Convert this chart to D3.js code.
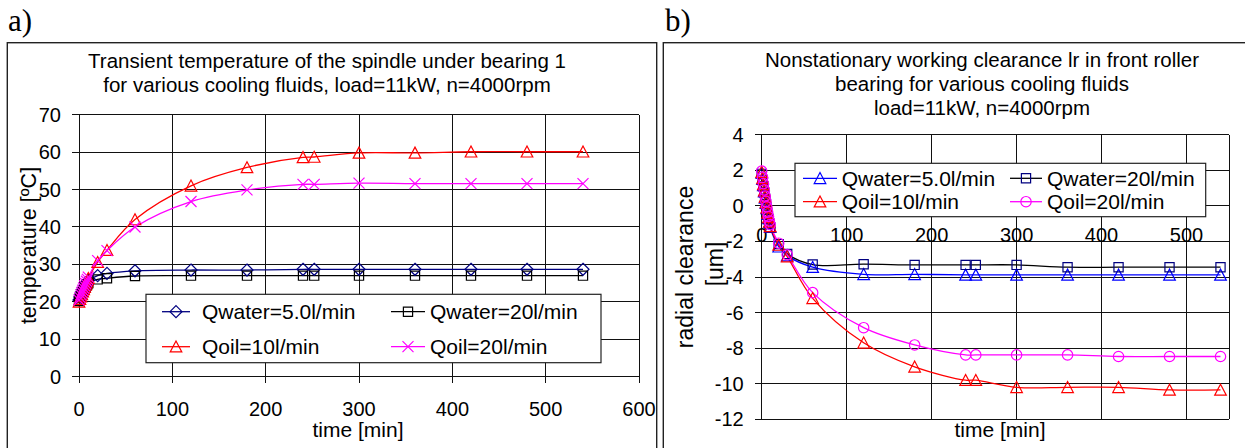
<!DOCTYPE html>
<html>
<head>
<meta charset="utf-8">
<script src="https://cdn.jsdelivr.net/npm/d3@7"></script>
<style>
  html, body { margin: 0; padding: 0; background: #fff; }
  svg { display: block; font-family: "Liberation Sans", Arial, sans-serif; }
</style>
</head>
<body>
<svg id="chart" width="1245" height="448"></svg>
<script>
// ---------- DATA ----------
const times = [0,1,2,3,4,5,6,7,8,9,10,20,30,60,120,180,240,252,300,360,420,480,540];

// (a) temperature [ºC]
const tempWater5  = [20.5,21.3,22,22.6,23.2,23.7,24.2,24.6,25,25.4,25.7,27,27.6,28.3,28.5,28.5,28.7,28.7,28.7,28.7,28.7,28.7,28.7];
const tempWater20 = [20.2,21,21.6,22.2,22.7,23.2,23.6,24,24.4,24.7,25,26,26.3,26.9,27,27,27,27,27,27,27,27,27];
const tempOil10   = [20,20.7,21.4,22,22.7,23.3,23.9,24.5,25.1,25.7,26.3,30.6,33.8,42,51,55.9,58.6,58.7,59.8,59.8,60.1,60.1,60.1];
const tempOil20   = [20.5,21.2,21.9,22.5,23.1,23.7,24.3,24.9,25.5,26,26.6,31,33.7,40,46.8,49.9,51.4,51.4,51.7,51.6,51.6,51.6,51.6];

// (b) radial clearance [um]
const clrWater5  = [1.85,1.5,1.15,0.8,0.45,0.15,-0.15,-0.45,-0.7,-0.95,-1.2,-2.3,-2.8,-3.45,-3.85,-3.85,-3.88,-3.88,-3.88,-3.88,-3.88,-3.88,-3.88];
const clrWater20 = [1.8,1.45,1.1,0.75,0.4,0.1,-0.2,-0.5,-0.75,-1,-1.2,-2.15,-2.7,-3.3,-3.28,-3.32,-3.32,-3.32,-3.32,-3.45,-3.45,-3.45,-3.45];
const clrOil10   = [1.9,1.55,1.2,0.85,0.5,0.2,-0.1,-0.4,-0.65,-0.9,-1.15,-2.2,-2.85,-5.2,-7.7,-9.05,-9.8,-9.8,-10.2,-10.2,-10.2,-10.35,-10.35];
const clrOil20   = [1.95,1.6,1.25,0.9,0.55,0.25,-0.05,-0.35,-0.6,-0.85,-1.05,-2.1,-2.75,-4.88,-6.85,-7.82,-8.38,-8.38,-8.38,-8.38,-8.47,-8.47,-8.47];

const seriesNames = ["Qwater=5.0l/min","Qwater=20l/min","Qoil=10l/min","Qoil=20l/min"];

const aXTicks = [0,100,200,300,400,500,600];
const aYTicks = [0,10,20,30,40,50,60,70];
const bXTicks = [0,100,200,300,400,500];
const bYTicks = [-12,-10,-8,-6,-4,-2,0,2,4];

const aTitle = ["Transient temperature of the spindle under bearing 1","for various cooling fluids, load=11kW, n=4000rpm"];
const bTitle = ["Nonstationary working clearance lr in front roller","bearing for various cooling fluids","load=11kW, n=4000rpm"];

// ---------- DRAW ----------
const svg = d3.select("#chart");
const FONT = 20;

function marker(g, type, x, y, color) {
  const s = g.append("path").attr("fill","none").attr("stroke",color).attr("stroke-width",1.2);
  let d;
  if (type === "diamond") { const r = 6; d = `M${x},${y-r}L${x+r},${y}L${x},${y+r}L${x-r},${y}Z`; }
  else if (type === "square") { const r = 4.6; d = `M${x-r},${y-r}H${x+r}V${y+r}H${x-r}Z`; }
  else if (type === "triangle") { const w = 5.8, h = 10.5; d = `M${x},${y-h/2-0.5}L${x+w},${y+h/2}L${x-w},${y+h/2}Z`; }
  else if (type === "cross") { const r = 5.5; d = `M${x-r},${y-r}L${x+r},${y+r}M${x-r},${y+r}L${x+r},${y-r}`; }
  else if (type === "circle") { const r = 5.2; d = `M${x-r},${y}a${r},${r} 0 1,0 ${2*r},0a${r},${r} 0 1,0 ${-2*r},0`; }
  s.attr("d", d);
}

function panel(cfg) {
  const g = svg.append("g");
  // frame
  g.append("rect").attr("x",cfg.box[0]).attr("y",cfg.box[1]).attr("width",cfg.box[2]).attr("height",cfg.box[3])
    .attr("fill","none").attr("stroke","#222").attr("stroke-width",1.4);
  // panel letter
  g.append("text").attr("x",cfg.letterX).attr("y",30.5).attr("font-family","'Liberation Serif','Times New Roman',serif")
    .attr("font-size",31).text(cfg.letter);
  // title
  cfg.title.forEach((t,i) => {
    g.append("text").attr("x",cfg.titleX).attr("y",cfg.titleY[i]).attr("text-anchor","middle")
      .attr("font-size",20.5).text(t);
  });
  const x = cfg.x, y = cfg.y;
  const [x0,x1] = x.range(), [yb,yt] = y.range();
  // grid
  const grid = g.append("g").attr("stroke","#111").attr("stroke-width",1).attr("shape-rendering","crispEdges");
  cfg.yTicks.forEach(v => grid.append("line").attr("x1",x0-7).attr("x2",x1).attr("y1",y(v)).attr("y2",y(v)));
  cfg.xTicks.forEach(v => grid.append("line").attr("x1",x(v)).attr("x2",x(v)).attr("y1",yt).attr("y2",yb + cfg.xTickLen));
  grid.append("line").attr("x1",x1).attr("x2",x1).attr("y1",yt).attr("y2",yb);
  grid.append("line").attr("x1",x0).attr("x2",x1).attr("y1",yb).attr("y2",yb);
  // tick labels
  cfg.yTicks.forEach(v => g.append("text").attr("x",x0-18).attr("y",y(v)).attr("dy","0.35em")
    .attr("text-anchor","end").attr("font-size",FONT).text(v));
  cfg.xTicks.forEach(v => g.append("text").attr("x",x(v)).attr("y",cfg.xLabelY)
    .attr("text-anchor","middle").attr("font-size",FONT).text(v));
  // axis titles
  g.append("text").attr("x",cfg.xTitle[0]).attr("y",cfg.xTitle[1]).attr("text-anchor","middle")
    .attr("font-size",21).text("time [min]");
  cfg.yTitle.forEach(t => {
    g.append("text").attr("transform",`translate(${t.x},${t.y}) rotate(-90)`).attr("text-anchor","middle")
      .attr("dy","0.35em").attr("font-size",t.size).text(t.text);
  });
  // series
  const line = d3.line().x(d => x(d[0])).y(d => y(d[1])).curve(d3.curveCatmullRom.alpha(0.5));
  cfg.series.forEach(s => {
    const pts = times.map((t,i) => [t, s.values[i]]);
    g.append("path").attr("d", line(pts)).attr("fill","none").attr("stroke",s.line).attr("stroke-width",1.3);
  });
  cfg.series.forEach(s => {
    times.forEach((t,i) => marker(g, s.marker, x(t), y(s.values[i]), s.color));
  });
  // legend
  const L = cfg.legend;
  g.append("rect").attr("x",L.box[0]).attr("y",L.box[1]).attr("width",L.box[2]).attr("height",L.box[3])
    .attr("fill","#fff").attr("stroke","#222").attr("stroke-width",1.2);
  cfg.series.forEach((s,i) => {
    const col = i % 2, row = Math.floor(i / 2);
    const c = L.cols[col], ry = L.rows[row];
    g.append("line").attr("x1",c[0]).attr("x2",c[1]).attr("y1",ry).attr("y2",ry).attr("stroke",s.line).attr("stroke-width",1.3);
    marker(g, s.marker, (c[0]+c[1])/2, ry, s.color);
    g.append("text").attr("x",c[2]).attr("y",ry).attr("dy","0.36em").attr("font-size",21).text(seriesNames[i]);
  });
}

panel({
  box: [7.3, 42.7, 649.4, 430], letter: "a)", letterX: 8,
  title: aTitle, titleX: 327, titleY: [68, 91.5],
  x: d3.scaleLinear().domain([0,600]).range([79,639]),
  y: d3.scaleLinear().domain([0,70]).range([376.7,114.7]),
  xTicks: aXTicks, yTicks: aYTicks, xTickLen: 6.5, xLabelY: 416,
  xTitle: [358, 437],
  yTitle: [{text:"temperature [ºC]", x:28.5, y:245.5, size:21.5}],
  series: [
    {values: tempWater5,  marker:"diamond",  color:"#000080", line:"#000080"},
    {values: tempWater20, marker:"square",   color:"#000000", line:"#000000"},
    {values: tempOil10,   marker:"triangle", color:"#FF0000", line:"#FF0000"},
    {values: tempOil20,   marker:"cross",    color:"#FF00FF", line:"#FF00FF"}
  ],
  legend: {box:[146,294.3,455,68.4], cols:[[162,190,202],[391,425,430]], rows:[311.7,346.7]}
});

panel({
  box: [663.3, 42.7, 640, 430], letter: "b)", letterX: 665,
  title: bTitle, titleX: 982, titleY: [67, 91, 115],
  x: d3.scaleLinear().domain([0,550]).range([761.7,1229]),
  y: d3.scaleLinear().domain([-12,4]).range([419.3,134.7]),
  xTicks: bXTicks, yTicks: bYTicks, xTickLen: 0, xLabelY: 242,
  xTitle: [1000, 437],
  yTitle: [{text:"radial clearance", x:685, y:267, size:23}, {text:"[um]", x:715, y:264, size:23}],
  series: [
    {values: clrWater5,  marker:"triangle", color:"#0000FF", line:"#0000FF"},
    {values: clrWater20, marker:"square",   color:"#000080", line:"#000000"},
    {values: clrOil10,   marker:"triangle", color:"#FF0000", line:"#FF0000"},
    {values: clrOil20,   marker:"circle",   color:"#FF00FF", line:"#FF00FF"}
  ],
  legend: {box:[795,163.3,410.7,53.4], cols:[[803,837,841.7],[1010,1042,1047]], rows:[178.3,201.7]}
});
</script>
</body>
</html>
